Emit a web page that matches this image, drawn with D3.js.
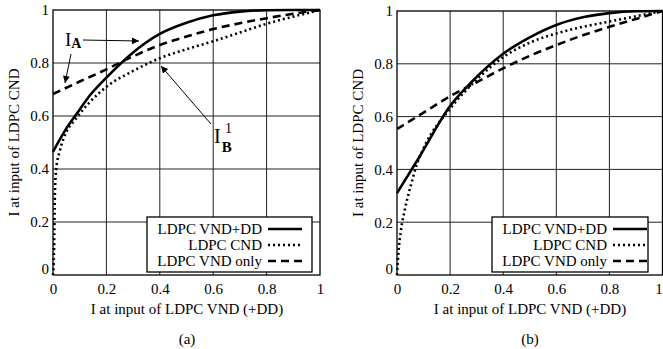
<!DOCTYPE html>
<html>
<head>
<meta charset="utf-8">
<script src="https://cdn.jsdelivr.net/npm/d3@7"></script>
<style>
  body { margin: 0; background: #fff; }
  svg { display: block; font-family: "Liberation Serif", "Times New Roman", serif; }
</style>
</head>
<body>
<div id="chart"></div>
<script>
const ticks = [0, 0.2, 0.4, 0.6, 0.8, 1];
const tickLabels = ["0", "0.2", "0.4", "0.6", "0.8", "1"];
const seriesNames = ["LDPC VND+DD", "LDPC CND", "LDPC VND only"];

// panel (a)
const vndDdA = [[0,0.465],[0.045,0.545],[0.09,0.61],[0.14,0.68],[0.2,0.745],[0.3,0.84],[0.4,0.91],[0.5,0.952],[0.6,0.98],[0.7,0.994],[0.8,0.999],[0.9,1],[1,1]];
const cndA = [[0,0],[0.004,0.1],[0.007,0.3],[0.012,0.4],[0.026,0.47],[0.05,0.54],[0.082,0.585],[0.14,0.655],[0.2,0.71],[0.3,0.77],[0.4,0.818],[0.5,0.852],[0.6,0.882],[0.7,0.915],[0.8,0.948],[0.9,0.975],[1,1]];
const vndOnlyA = [[0,0.683],[0.1,0.73],[0.2,0.776],[0.3,0.825],[0.4,0.868],[0.5,0.9],[0.6,0.928],[0.7,0.95],[0.8,0.969],[0.9,0.986],[1,1]];

// panel (b)
const vndDdB = [[0,0.31],[0.086,0.45],[0.2,0.64],[0.28,0.73],[0.4,0.838],[0.5,0.9],[0.6,0.947],[0.7,0.976],[0.8,0.992],[0.9,0.999],[1,1]];
const cndB = [[0,0],[0.005,0.08],[0.015,0.17],[0.03,0.25],[0.055,0.35],[0.075,0.42],[0.1,0.48],[0.2,0.63],[0.3,0.74],[0.4,0.825],[0.5,0.88],[0.6,0.915],[0.7,0.94],[0.8,0.96],[0.9,0.98],[1,1]];
const vndOnlyB = [[0,0.553],[0.1,0.615],[0.2,0.677],[0.3,0.73],[0.4,0.783],[0.5,0.83],[0.6,0.871],[0.7,0.908],[0.8,0.94],[0.9,0.97],[1,1]];

const styles = [
  { dash: null, width: 2.6 },
  { dash: "2,3", width: 2.6 },
  { dash: "8,5", width: 2.6 }
];

const svg = d3.select("#chart").append("svg")
  .attr("width", 663)
  .attr("height", 349);

const defs = svg.append("defs");
defs.append("marker")
  .attr("id", "arrow")
  .attr("viewBox", "0 0 10 10")
  .attr("refX", 10).attr("refY", 5)
  .attr("markerWidth", 9).attr("markerHeight", 7)
  .attr("markerUnits", "userSpaceOnUse")
  .attr("orient", "auto")
  .append("path")
  .attr("d", "M0,0 L10,5 L0,10 Z")
  .attr("fill", "#000");

function panel(opts) {
  const x = d3.scaleLinear().domain([0, 1]).range([opts.left, opts.right]);
  const y = d3.scaleLinear().domain([0, 1]).range([opts.bottom, opts.top]);
  const g = svg.append("g");

  // grid
  g.selectAll(".gx").data(ticks.slice(1, -1)).enter().append("line")
    .attr("x1", d => x(d)).attr("x2", d => x(d))
    .attr("y1", y(0)).attr("y2", y(1))
    .attr("stroke", "#222").attr("stroke-width", 1);
  g.selectAll(".gy").data(ticks.slice(1, -1)).enter().append("line")
    .attr("y1", d => y(d)).attr("y2", d => y(d))
    .attr("x1", x(0)).attr("x2", x(1))
    .attr("stroke", "#222").attr("stroke-width", 1);

  // axes with labels
  const xAxis = g.append("g")
    .attr("transform", "translate(0," + y(0) + ")")
    .call(d3.axisBottom(x).tickValues(ticks).tickFormat((d, i) => tickLabels[i]).tickSize(0).tickPadding(8));
  const yAxis = g.append("g")
    .attr("transform", "translate(" + x(0) + ",0)")
    .call(d3.axisLeft(y).tickValues(ticks).tickFormat((d, i) => tickLabels[i]).tickSize(0).tickPadding(4));
  [xAxis, yAxis].forEach(a => {
    a.select(".domain").remove();
    a.selectAll("text").attr("font-size", 15).attr("font-family", "Liberation Serif").attr("fill", "#000");
  });
  yAxis.selectAll("text").filter((d) => d === 0).attr("dy", "-0.1em");
  // last x label sits against the page edge in panel (b)
  if (opts.right > 655) {
    xAxis.selectAll("text").filter(d => d === 1).attr("x", -4);
  }

  // frame
  g.append("rect")
    .attr("x", x(0)).attr("y", y(1))
    .attr("width", x(1) - x(0)).attr("height", y(0) - y(1))
    .attr("fill", "none").attr("stroke", "#000").attr("stroke-width", 1.3);

  // curves
  const line = d3.line()
    .x(d => x(d[0])).y(d => y(d[1]))
    .curve(d3.curveMonotoneX);
  opts.series.forEach((s, i) => {
    g.append("path")
      .datum(s)
      .attr("d", line)
      .attr("fill", "none")
      .attr("stroke", "#000")
      .attr("stroke-width", styles[i].width)
      .attr("stroke-dasharray", styles[i].dash);
  });

  // legend
  const lg = g.append("g");
  lg.append("rect")
    .attr("x", opts.legend.x).attr("y", opts.legend.y)
    .attr("width", opts.legend.w).attr("height", 55)
    .attr("fill", "#fff").attr("stroke", "#000").attr("stroke-width", 1.3);
  seriesNames.forEach((name, i) => {
    const ry = opts.legend.y + 12 + i * 16;
    lg.append("text")
      .attr("x", opts.legend.textX).attr("y", ry + 5)
      .attr("text-anchor", "end")
      .attr("font-size", 15)
      .text(name);
    lg.append("line")
      .attr("x1", opts.legend.textX + 6).attr("x2", opts.legend.textX + 40)
      .attr("y1", ry).attr("y2", ry)
      .attr("stroke", "#000")
      .attr("stroke-width", styles[i].width)
      .attr("stroke-dasharray", styles[i].dash);
  });

  // axis titles
  g.append("text")
    .attr("x", opts.xTitleX).attr("y", 314)
    .attr("text-anchor", "middle").attr("font-size", 15)
    .text("I at input of LDPC VND (+DD)");
  g.append("text")
    .attr("x", opts.xTitleX).attr("y", 344)
    .attr("text-anchor", "middle").attr("font-size", 15)
    .text(opts.tag);
  g.append("text")
    .attr("transform", "translate(" + opts.yTitleX + "," + ((opts.top + opts.bottom) / 2) + ") rotate(-90)")
    .attr("text-anchor", "middle").attr("font-size", 15)
    .text("I at input of LDPC CND");

  return { x, y, g };
}

const a = panel({
  left: 53, right: 320, top: 10, bottom: 275,
  series: [vndDdA, cndA, vndOnlyA],
  legend: { x: 147, y: 217, w: 165, textX: 262 },
  xTitleX: 187, yTitleX: 19, tag: "(a)"
});

panel({
  left: 397, right: 662.5, top: 11, bottom: 275,
  series: [vndDdB, cndB, vndOnlyB],
  legend: { x: 492, y: 217, w: 156, textX: 607 },
  xTitleX: 530, yTitleX: 363, tag: "(b)"
});

// annotations on panel (a)
const ia = a.g.append("text").attr("x", 65).attr("y", 46).attr("font-size", 19);
ia.append("tspan").text("I");
ia.append("tspan").attr("font-size", 14).attr("font-weight", "bold").attr("dy", 2).text("A");
a.g.append("line")
  .attr("x1", 83).attr("y1", 40).attr("x2", 139).attr("y2", 41)
  .attr("stroke", "#000").attr("stroke-width", 1).attr("marker-end", "url(#arrow)");
a.g.append("line")
  .attr("x1", 71).attr("y1", 54).attr("x2", 65).attr("y2", 83)
  .attr("stroke", "#000").attr("stroke-width", 1).attr("marker-end", "url(#arrow)");

const ib = a.g.append("text").attr("x", 214).attr("y", 143).attr("font-size", 20);
ib.append("tspan").text("I");
ib.append("tspan").attr("font-size", 15).attr("font-weight", "bold").attr("dy", 9).attr("dx", 1).text("B");
a.g.append("text").attr("x", 225).attr("y", 133).attr("font-size", 14).text("1");
a.g.append("line")
  .attr("x1", 211).attr("y1", 124).attr("x2", 161).attr("y2", 66)
  .attr("stroke", "#000").attr("stroke-width", 1).attr("marker-end", "url(#arrow)");
</script>
</body>
</html>
